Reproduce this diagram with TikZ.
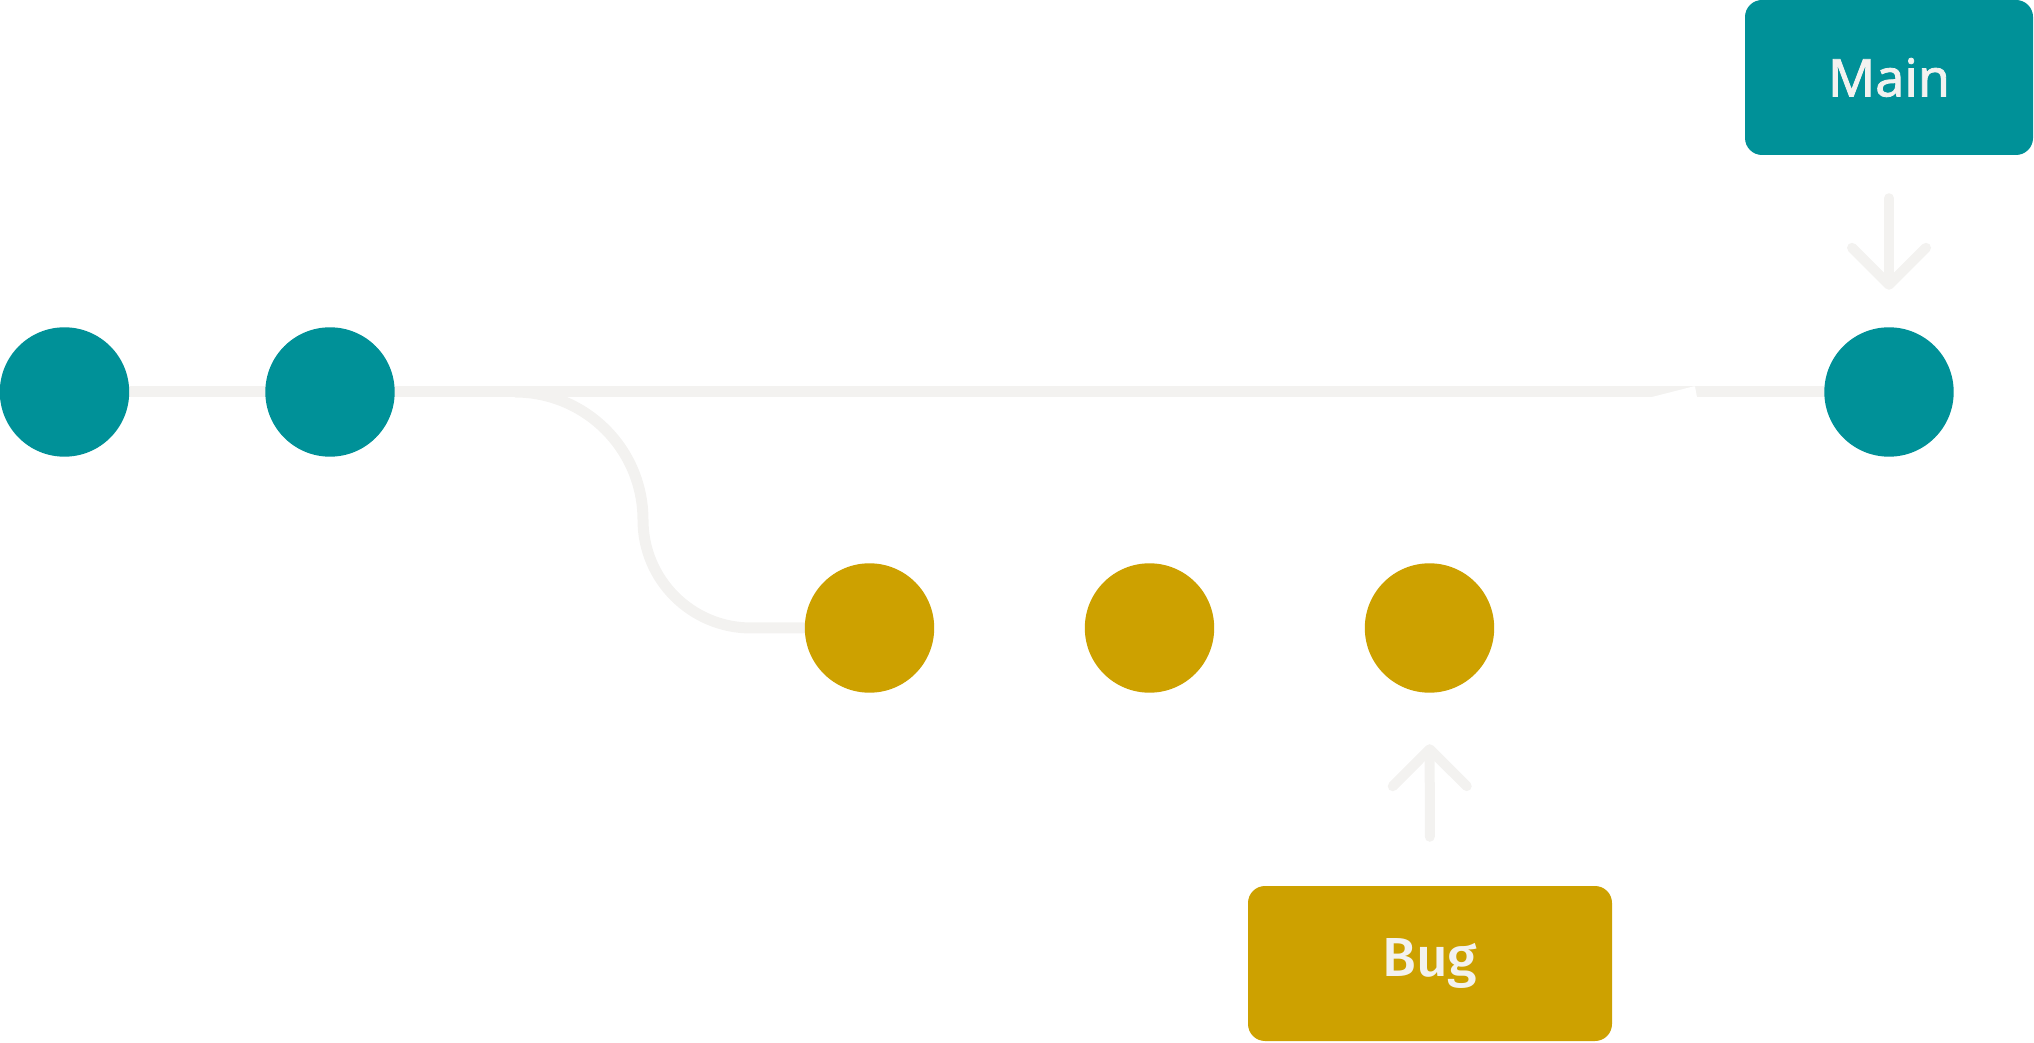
\documentclass[tikz,border=0pt]{standalone}
\usepackage{fontspec}
\setmainfont{Fira Sans}[BoldFont={Fira Sans Medium}]
\newfontfamily\mainlabelfont{Noto Sans}[FakeBold=1.6]
\usetikzlibrary{arrows.meta,positioning,backgrounds}
\definecolor{tealc}{HTML}{009198}
\definecolor{goldc}{HTML}{CDA100}
\definecolor{linegray}{HTML}{F3F2F0}

\begin{document}
\begin{tikzpicture}[x=1pt,y=1pt,
    commit/.style={circle,fill=#1,minimum size=129.4pt,inner sep=0pt},
    branchbox/.style={rounded corners=17pt,fill=#1,minimum height=155pt,text=linegray,
        font=\fontsize{55}{60}\selectfont\bfseries},
    track/.style={draw=linegray,line width=11pt},
    pointer/.style={draw=linegray,line width=10pt,line cap=round,
        -{Straight Barb[length=37pt,width=74pt,round]}}]
    \useasboundingbox (0,0) rectangle (2034,1042);
    % commits
    \node[commit=tealc] at (64.5,650) (c1) {};
    \node[commit=tealc] at (330,650) (c2) {};
    \node[commit=tealc] at (1889,650) (c3) {};
    \node[commit=goldc] at (869.5,414) (y1) {};
    \node[commit=goldc] at (1149.5,414) (y2) {};
    \node[commit=goldc] at (1429.5,414) (y3) {};
    \coordinate (fork) at (515,650);
    % tracks
    \begin{scope}[on background layer]
        \draw[track] (c1.center) -- (c3.center);
        \draw[track] (fork) arc[start angle=90,end angle=0,radius=128]
            arc[start angle=180,end angle=270,radius=108] -- (y1.center);
    \end{scope}
    \fill[white] (1650,644.5) -- (1693,655.5) -- (1695,655.5) -- (1697,644.5) -- cycle;
    % branch labels
    \node[branchbox=tealc,minimum width=288pt,
        font=\fontsize{52}{60}\selectfont\mainlabelfont] at (1889,964.5) (main) {Main};
    \node[branchbox=goldc,minimum width=364pt] at (1430,78.5) (bug) {Bug};
    \draw[pointer,shorten <=43pt,shorten >=37.3pt] (main) -- (c3);
    \draw[pointer,shorten <=49pt,shorten >=51.3pt] (bug) -- (y3);
\end{tikzpicture}
\end{document}
